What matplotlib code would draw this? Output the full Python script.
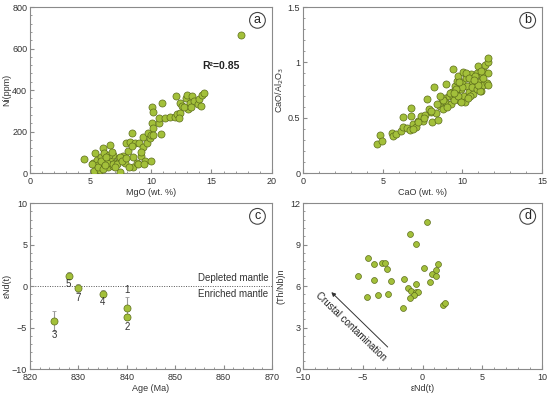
import matplotlib
matplotlib.use("Agg")
import matplotlib.pyplot as plt
from matplotlib.ticker import AutoMinorLocator, MultipleLocator

plt.rcParams['font.family'] = ['Liberation Sans', 'DejaVu Sans']
plt.rcParams['font.size'] = 6.5

# (a) MgO vs Ni
mgo = [4.46, 5.37, 5.23, 5.51, 5.29, 5.65, 5.84, 6.01, 6.12, 6.28, 5.79, 6.47, 6.61, 6.67,
       6.83, 6.88, 7.02, 7.38, 7.44, 7.66, 7.85, 7.93, 8.13, 8.26, 8.40, 8.49, 8.54, 8.68,
       8.87, 9.03, 9.15, 9.31, 9.36, 9.50, 9.64, 9.78, 9.92, 9.98, 10.06, 10.14, 10.08, 10.19,
       10.64, 10.69, 10.88, 11.16, 11.57, 11.98, 12.07, 12.12, 12.40, 12.40, 12.53, 12.89,
       13.0, 13.09, 13.22, 13.36, 13.55, 13.91, 13.99, 14.19, 14.4, 17.45,
       5.1, 5.6, 6.0, 6.4, 6.9, 7.2, 7.4, 5.9, 6.2, 6.5, 7.0, 7.6, 8.2, 8.9, 9.4, 10.0,
       10.2, 12.3, 12.7, 13.3, 14.1, 10.8, 6.3, 6.8, 7.9, 8.4, 9.2]
ni = [67, 95, 50, 63, 11, 39, 76, 119, 98, 54, 14, 27, 135, 66,
      34, 87, 50, 71, 6, 82, 47, 143, 107, 151, 194, 79, 27, 143,
      47, 146, 82, 124, 172, 59, 146, 194, 167, 59, 242, 215, 320, 295,
      240, 264, 336, 264, 268, 268, 371, 284, 291, 339, 323, 360,
      376, 307, 336, 371, 348, 333, 355, 376, 385, 665,
      45, 30, 20, 50, 45, 45, 75, 60, 40, 85, 30, 60, 30, 45, 45, 185,
      185, 265, 320, 320, 325, 190, 75, 100, 70, 130, 100]

# (b) CaO vs CaO/Al2O3
cao = [4.67, 4.83, 4.98, 5.57, 5.67, 5.84, 6.13, 6.30, 6.30, 6.51, 6.72, 6.76, 6.76, 6.92,
       7.09, 7.24, 7.39, 7.55, 7.68, 7.77, 7.93, 8.02, 8.10, 8.22, 8.35, 8.49, 8.60, 8.71,
       8.81, 8.91, 8.98, 9.06, 9.18, 9.33, 9.40, 9.44, 9.54, 9.60, 9.65, 9.75, 9.86, 9.90,
       9.96, 10.03, 10.1, 10.17, 10.23, 10.32, 10.44, 10.53, 10.59, 10.69, 10.80, 10.94,
       11.01, 11.07, 11.15, 11.22, 11.28, 11.36, 11.43, 11.53, 11.59, 11.63, 11.63,
       9.3, 9.5, 9.7, 9.9, 10.0, 10.2, 10.4, 10.6, 10.9, 11.1, 11.3, 10.8, 9.8, 9.6, 9.2,
       8.8, 8.4, 8.0, 7.6, 7.2, 6.9, 10.5, 11.0, 11.6, 11.2, 9.45, 10.35, 10.7, 9.05, 8.6]
ratio = [0.262, 0.343, 0.289, 0.361, 0.331, 0.355, 0.382, 0.42, 0.506, 0.404, 0.388, 0.512,
         0.59, 0.443, 0.413, 0.473, 0.518, 0.473, 0.524, 0.668, 0.578, 0.548, 0.458, 0.774,
         0.539, 0.481, 0.608, 0.653, 0.578, 0.675, 0.804, 0.623, 0.698, 0.729, 0.94, 0.684,
         0.789, 0.744, 0.834, 0.873, 0.653, 0.759, 0.819, 0.910, 0.698, 0.644, 0.855, 0.783,
         0.734, 0.894, 0.834, 0.714, 0.789, 0.903, 0.964, 0.825, 0.744, 0.879, 0.795, 0.910,
         0.976, 0.810, 1.005, 1.036, 0.903,
         0.62, 0.66, 0.70, 0.64, 0.78, 0.90, 0.86, 0.78, 0.76, 0.74, 0.86, 0.88, 0.82, 0.76,
         0.72, 0.66, 0.62, 0.56, 0.50, 0.46, 0.40, 0.70, 0.80, 0.80, 0.92, 0.72, 0.68, 0.84,
         0.60, 0.70]

# (c) Age vs eNd(t)
age = [840, 840, 825, 835, 828, 830]
end_t = [-2.6, -3.75, -4.2, -0.9, 1.27, -0.26]
end_err = [1.3, 0.35, 1.2, 0.4, 0.4, 0.5]
sample_ids = ['1', '2', '3', '4', '5', '7']

# (d) eNd(t) vs (Th/Nb)n
end_d = [0.41, -1.05, -0.52, -4.6, -4.04, -3.37, -3.15, -3.0, 0.1, 1.27, 1.1, 0.77, 1.1,
         -5.44, -4.04, -2.64, -1.55, -0.57, 0.66, -1.19, -0.97, -0.57, -0.35, -0.69, -1.05,
         -2.92, -3.76, -4.66, -1.66, 1.69, 1.89]
thnb = [10.62, 9.75, 9.03, 8.06, 7.58, 7.70, 7.65, 7.24, 7.3, 7.58, 7.19, 6.86, 6.71,
        6.71, 6.47, 6.33, 6.52, 6.18, 6.28, 5.84, 5.65, 5.6, 5.55, 5.36, 5.12,
        5.46, 5.36, 5.21, 4.39, 4.64, 4.78]

FILL = '#a3c03a'
EDGE = '#5d6d1c'
SPINE = '#8a8a8a'
TXT = '#333333'

fig = plt.figure(figsize=(5.5, 3.97), dpi=100)
axa = fig.add_axes([0.0545, 0.5642, 0.44, 0.418])
axb = fig.add_axes([0.551, 0.5642, 0.4345, 0.418])
axc = fig.add_axes([0.0545, 0.0705, 0.44, 0.418])
axd = fig.add_axes([0.551, 0.0705, 0.4345, 0.418])


def style(ax, letter, ylab_x):
    for s in ax.spines.values():
        s.set_color(SPINE)
        s.set_linewidth(0.8)
    ax.tick_params(which='both', direction='in', colors=SPINE, labelcolor=TXT,
                   labelsize=6.5, pad=2)
    ax.tick_params(axis='x', which='both', pad=3)
    ax.tick_params(which='major', length=3)
    ax.tick_params(which='minor', length=1.5)
    ax.xaxis.set_minor_locator(AutoMinorLocator(5))
    ax.yaxis.set_minor_locator(AutoMinorLocator(5))
    ax.yaxis.set_label_coords(ylab_x, 0.5)
    ax.xaxis.set_label_coords(0.5, -0.09)
    ax.text(0.94, 0.92, letter, transform=ax.transAxes, ha='center', va='center',
            fontsize=9, color='#222222',
            bbox=dict(boxstyle='circle,pad=0.15', fc='white', ec='#444444', lw=0.8))


axa.scatter(mgo, ni, s=26, c=FILL, edgecolors=EDGE, linewidths=0.5, zorder=3)
axa.set_xlim(0, 20)
axa.set_ylim(0, 800)
axa.xaxis.set_major_locator(MultipleLocator(5))
axa.yaxis.set_major_locator(MultipleLocator(200))
axa.set_xlabel('MgO (wt. %)', color=TXT)
axa.set_ylabel('Ni(ppm)', color=TXT)
axa.text(14.2, 517, 'R²=0.85', fontsize=7.5, fontweight='bold', color='#222222', va='center')
style(axa, 'a', -0.076)

axb.scatter(cao, ratio, s=26, c=FILL, edgecolors=EDGE, linewidths=0.5, zorder=3)
axb.set_xlim(0, 15)
axb.set_ylim(0, 1.5)
axb.set_xticks([0, 5, 10, 15])
axb.set_yticks([0, 0.5, 1, 1.5])
axb.set_yticklabels(['0', '0.5', '1', '1.5'])
axb.set_xlabel('CaO (wt. %)', color=TXT)
axb.set_ylabel('CaO/Al$_2$O$_3$', color=TXT)
style(axb, 'b', -0.072)

axc.errorbar(age, end_t, yerr=end_err, fmt='none', ecolor='#999999', elinewidth=0.8,
             capsize=1.5, capthick=0.6, zorder=2)
axc.scatter(age, end_t, s=26, c=FILL, edgecolors=EDGE, linewidths=0.5, zorder=3)
axc.axhline(0, color='#555555', lw=0.7, ls=(0, (1, 1.5)), zorder=1)
offs = {'1': (0, 2.1), '2': (0, -1.15), '3': (0, -1.7), '4': (0, -1.0), '5': (0, -1.05), '7': (0, -1.2)}
for a, e, sid in zip(age, end_t, sample_ids):
    dx, dy = offs[sid]
    axc.text(a + dx, e + dy, sid, ha='center', va='center', fontsize=7, color=TXT)
axc.text(869.3, 0.35, 'Depleted mantle', ha='right', va='bottom', fontsize=7, color=TXT)
axc.text(869.3, -0.35, 'Enriched mantle', ha='right', va='top', fontsize=7, color=TXT)
axc.set_xlim(820, 870)
axc.set_ylim(-10, 10)
axc.xaxis.set_major_locator(MultipleLocator(10))
axc.yaxis.set_major_locator(MultipleLocator(5))
axc.set_xlabel('Age (Ma)', color=TXT)
axc.set_ylabel('εNd(t)', color=TXT)
style(axc, 'c', -0.076)

axd.scatter(end_d, thnb, s=18, c=FILL, edgecolors=EDGE, linewidths=0.5, zorder=3)
axd.annotate('', xy=(-7.8, 5.7), xytext=(-2.75, 1.45),
             arrowprops=dict(arrowstyle='-|>', color='#333333', lw=0.7, mutation_scale=6))
axd.text(-6.0, 3.1, 'Crustal contamination', rotation=-44, rotation_mode='anchor',
         ha='center', va='center', fontsize=7, color='#222222')
axd.set_xlim(-10, 10)
axd.set_ylim(0, 12)
axd.xaxis.set_major_locator(MultipleLocator(5))
axd.yaxis.set_major_locator(MultipleLocator(3))
axd.set_xlabel('εNd(t)', color=TXT)
axd.set_ylabel('(Th/Nb)n', color=TXT)
style(axd, 'd', -0.072)

fig.savefig('out.png', dpi=100)
